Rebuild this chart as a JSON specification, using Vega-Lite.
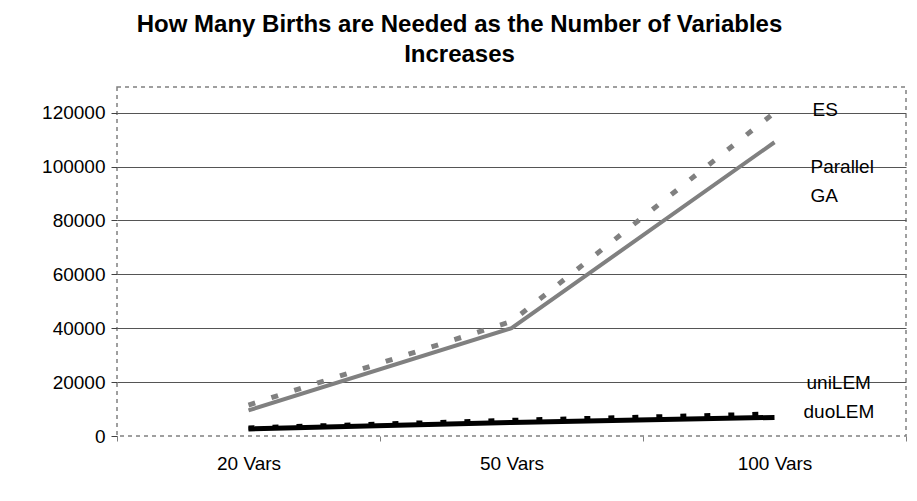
{
  "$schema": "https://vega.github.io/schema/vega-lite/v6.json",
  "width": 789,
  "height": 349,
  "autosize": {"type": "none"},
  "padding": {"left": 117, "top": 87, "right": 11, "bottom": 65},
  "background": "white",
  "title": {
    "text": ["How Many Births are Needed as the Number of Variables", "Increases"],
    "font": "Liberation Sans",
    "fontSize": 24,
    "fontWeight": "bold",
    "color": "black",
    "anchor": "middle",
    "dx": -52,
    "offset": 20,
    "lineHeight": 30
  },
  "config": {
    "view": {"stroke": "#808080", "strokeDash": [4, 4], "strokeWidth": 1.5},
    "axis": {
      "labelFont": "Liberation Sans",
      "labelFontSize": 19,
      "labelColor": "black",
      "domain": false,
      "title": null
    }
  },
  "data": {
    "values": [
      {"vars": "20 Vars", "series": "ES", "births": 11500},
      {"vars": "50 Vars", "series": "ES", "births": 42500},
      {"vars": "100 Vars", "series": "ES", "births": 120000},
      {"vars": "20 Vars", "series": "Parallel GA", "births": 9500},
      {"vars": "50 Vars", "series": "Parallel GA", "births": 40000},
      {"vars": "100 Vars", "series": "Parallel GA", "births": 109000},
      {"vars": "20 Vars", "series": "uniLEM", "births": 3000},
      {"vars": "50 Vars", "series": "uniLEM", "births": 5800},
      {"vars": "100 Vars", "series": "uniLEM", "births": 8200},
      {"vars": "20 Vars", "series": "duoLEM", "births": 2600},
      {"vars": "50 Vars", "series": "duoLEM", "births": 5000},
      {"vars": "100 Vars", "series": "duoLEM", "births": 6900}
    ]
  },
  "encoding": {
    "x": {
      "field": "vars",
      "type": "ordinal",
      "sort": ["20 Vars", "50 Vars", "100 Vars"],
      "bandPosition": 0.5,
      "scale": {"type": "band", "paddingInner": 0, "paddingOuter": 0},
      "axis": {
        "labelAngle": 0,
        "tickBand": "extent",
        "ticks": true,
        "tickSize": 5,
        "tickColor": "#808080",
        "labelPadding": 13,
        "grid": false
      }
    },
    "y": {
      "field": "births",
      "type": "quantitative",
      "scale": {"domain": [0, 129500], "nice": false},
      "axis": {
        "values": [0, 20000, 40000, 60000, 80000, 100000, 120000],
        "format": "d",
        "tickSize": 6,
        "tickColor": "#404040",
        "labelPadding": 6,
        "grid": true,
        "gridColor": {"condition": {"test": "datum.value == 0", "value": "transparent"}, "value": "#555555"},
        "gridWidth": 1
      }
    }
  },
  "layer": [
    {
      "transform": [{"filter": "datum.series == 'ES'"}],
      "mark": {"type": "line", "color": "#808080", "strokeWidth": 5, "strokeDash": [7, 17], "strokeCap": "butt"}
    },
    {
      "transform": [{"filter": "datum.series == 'Parallel GA'"}],
      "mark": {"type": "line", "color": "#808080", "strokeWidth": 4}
    },
    {
      "transform": [{"filter": "datum.series == 'uniLEM'"}],
      "mark": {"type": "line", "color": "black", "strokeWidth": 5, "strokeDash": [6, 18], "strokeCap": "butt"}
    },
    {
      "transform": [{"filter": "datum.series == 'duoLEM'"}],
      "mark": {"type": "line", "color": "black", "strokeWidth": 5}
    },
    {
      "transform": [{"filter": "datum.series == 'ES' && datum.vars == '100 Vars'"}],
      "mark": {"type": "text", "align": "left", "baseline": "middle", "dx": 38, "font": "Liberation Sans", "fontSize": 19, "color": "black"},
      "encoding": {"y": {"datum": 121000}, "text": {"field": "series"}}
    },
    {
      "transform": [{"filter": "datum.series == 'Parallel GA' && datum.vars == '100 Vars'"}],
      "mark": {"type": "text", "align": "left", "baseline": "middle", "dx": 36, "font": "Liberation Sans", "fontSize": 19, "color": "black"},
      "encoding": {"y": {"datum": 99800}, "text": {"value": "Parallel"}}
    },
    {
      "transform": [{"filter": "datum.series == 'Parallel GA' && datum.vars == '100 Vars'"}],
      "mark": {"type": "text", "align": "left", "baseline": "middle", "dx": 36, "font": "Liberation Sans", "fontSize": 19, "color": "black"},
      "encoding": {"y": {"datum": 89000}, "text": {"value": "GA"}}
    },
    {
      "transform": [{"filter": "datum.series == 'uniLEM' && datum.vars == '100 Vars'"}],
      "mark": {"type": "text", "align": "left", "baseline": "middle", "dx": 32, "font": "Liberation Sans", "fontSize": 19, "color": "black"},
      "encoding": {"y": {"datum": 19500}, "text": {"field": "series"}}
    },
    {
      "transform": [{"filter": "datum.series == 'duoLEM' && datum.vars == '100 Vars'"}],
      "mark": {"type": "text", "align": "left", "baseline": "middle", "dx": 29, "font": "Liberation Sans", "fontSize": 19, "color": "black"},
      "encoding": {"y": {"datum": 9000}, "text": {"field": "series"}}
    }
  ]
}
